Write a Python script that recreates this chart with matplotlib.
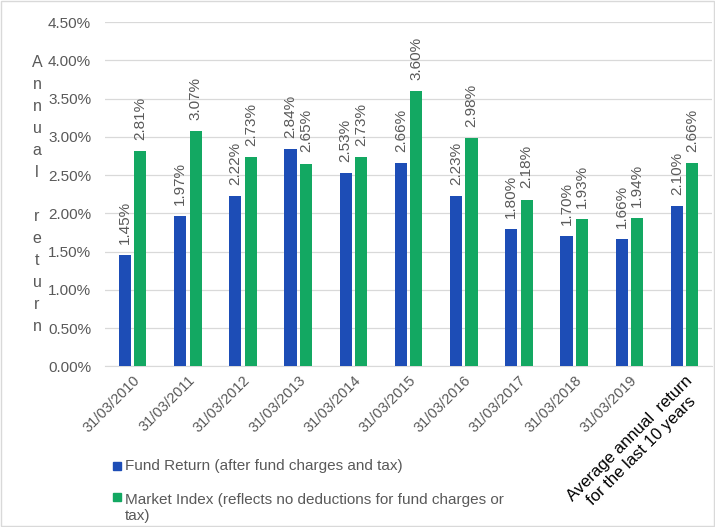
import matplotlib
matplotlib.use("Agg")
import matplotlib.pyplot as plt
import numpy as np
from matplotlib.patches import Rectangle

plt.rcParams['font.family'] = ['Liberation Sans', 'DejaVu Sans']

categories = ["31/03/2010", "31/03/2011", "31/03/2012", "31/03/2013", "31/03/2014",
              "31/03/2015", "31/03/2016", "31/03/2017", "31/03/2018", "31/03/2019",
              "Average annual  return\nfor the last 10 years"]
fund_return = [1.45, 1.97, 2.22, 2.84, 2.53, 2.66, 2.23, 1.80, 1.70, 1.66, 2.10]
market_index = [2.81, 3.07, 2.73, 2.65, 2.73, 3.60, 2.98, 2.18, 1.93, 1.94, 2.66]
series_names = ["Fund Return (after fund charges and tax)",
                "Market Index (reflects no deductions for fund charges or\ntax)"]
yticks = [0, 0.5, 1.0, 1.5, 2.0, 2.5, 3.0, 3.5, 4.0, 4.5]

blue = "#1D4DB6"
green = "#13A862"
gray = "#595959"

fig = plt.figure(figsize=(7.15, 5.27), dpi=100)
ax = fig.add_axes([0.147, 0.305, 0.849, 0.653])

x = np.arange(len(categories))
w = 0.22
gap = 0.06
b1 = ax.bar(x - w / 2 - gap / 2, fund_return, w, color=blue, zorder=3)
b2 = ax.bar(x + w / 2 + gap / 2, market_index, w, color=green, zorder=3)

for bars, vals in ((b1, fund_return), (b2, market_index)):
    for r, v in zip(bars, vals):
        ax.annotate(f"{v:.2f}%", (r.get_x() + r.get_width() / 2, v),
                    xytext=(0, 8), textcoords="offset points",
                    rotation=90, ha="center", va="bottom",
                    fontsize=11, color=gray)

ax.set_xlim(-0.5, len(categories) - 0.5)
ax.set_ylim(0, 4.5)
ax.set_yticks(yticks)
ax.set_yticklabels([f"{t:.2f}%" for t in yticks], fontsize=11, color=gray)
ax.yaxis.grid(True, color="#D9D9D9", linewidth=0.9, zorder=0)
ax.tick_params(axis="y", length=0, pad=10)
ax.tick_params(axis="x", length=0, pad=5)
for s in ("top", "right", "left"):
    ax.spines[s].set_visible(False)
ax.spines["bottom"].set_color("#D9D9D9")

ax.set_xticks(x)
ax.set_xticklabels(categories, rotation=45, ha="right", rotation_mode="anchor",
                   fontsize=10.5, color=gray, multialignment="center")
last = ax.get_xticklabels()[-1]
last.set_color("black")
last.set_fontsize(12)

# stacked axis title
fig.text(37 / 715, 1 - 55 / 527, "\n".join("Annual return"), ha="center", va="top",
         fontsize=11.5, color=gray, linespacing=1.58)

# legend entries
fig.patches.append(Rectangle((113 / 715, 1 - 470 / 527), 8 / 715, 8 / 527,
                             transform=fig.transFigure, color=blue))
fig.text(125 / 715, 1 - 466 / 527, series_names[0], fontsize=11, color=gray, va="center")
fig.patches.append(Rectangle((113 / 715, 1 - 501 / 527), 8 / 715, 8 / 527,
                             transform=fig.transFigure, color=green))
fig.text(125 / 715, 1 - 508 / 527, series_names[1], fontsize=11, color=gray, va="center",
         linespacing=1.25)

# thin border round the figure
fig.patches.append(Rectangle((0.001, 0.001), 0.997, 0.997, transform=fig.transFigure,
                             fill=False, edgecolor="#D9D9D9", linewidth=1))

fig.savefig("out.png", dpi=100)
